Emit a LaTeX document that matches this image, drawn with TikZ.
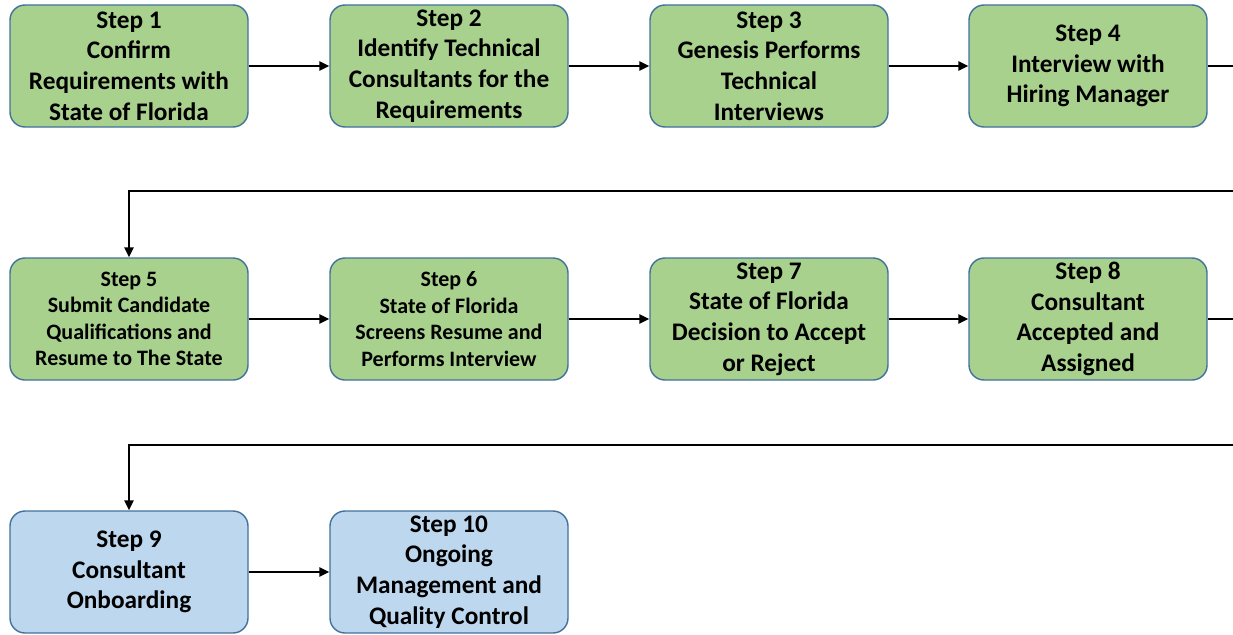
\documentclass[tikz,border=0pt]{standalone}
\usepackage{fontspec}
\setmainfont{Carlito}
\usetikzlibrary{arrows.meta}
\definecolor{boxgreen}{HTML}{A9D18E}
\definecolor{boxblue}{HTML}{BDD7EE}
\definecolor{boxedge}{HTML}{41719C}
\begin{document}
\begin{tikzpicture}[x=1pt,y=-1pt,
  stepbox/.style={draw=boxedge, line width=1.4pt, rounded corners=15pt,
    minimum width=238pt, minimum height=122pt, inner sep=0pt,
    align=center, font=\fontsize{25.3}{30.7}\selectfont\bfseries},
  greenbox/.style={stepbox, fill=boxgreen},
  bluebox/.style={stepbox, fill=boxblue},
  smalltext/.style={font=\fontsize{22}{26.5}\selectfont\bfseries},
  conn/.style={line width=2.7pt, draw=black},
  arr/.style={conn, -{Triangle[length=10pt,width=9pt]}}
]
\useasboundingbox (0,0) rectangle (1233,634);
% row 1
\node[greenbox] (s1) at (129,66) {Step 1\\Confirm\\Requirements with\\State of Florida};
\node[greenbox] (s2) at (449,66) {Step 2\\Identify Technical\\Consultants for the\\Requirements};
\node[greenbox] (s3) at (769,66) {Step 3\\Genesis Performs\\Technical\\Interviews};
\node[greenbox] (s4) at (1088,66) {Step 4\\Interview with\\Hiring Manager};
% row 2
\node[greenbox, smalltext] (s5) at (129,319) {Step 5\\Submit Candidate\\Qualifications and\\Resume to The State};
\node[greenbox, smalltext] (s6) at (449,319) {Step 6\\State of Florida\\Screens Resume and\\Performs Interview};
\node[greenbox] (s7) at (769,319) {Step 7\\State of Florida\\Decision to Accept\\or Reject};
\node[greenbox] (s8) at (1088,319) {Step 8\\Consultant\\Accepted and\\Assigned};
% row 3
\node[bluebox] (s9) at (129,572) {Step 9\\Consultant\\Onboarding};
\node[bluebox] (s10) at (449,572) {Step 10\\Ongoing\\Management and\\Quality Control};
% edge coordinates
\coordinate (e1) at (1234,66);
\coordinate (e2) at (1234,191);
\coordinate (e3) at (1234,319);
\coordinate (e4) at (1234,445);
% connectors
\draw[arr] (s1) -- (s2);
\draw[arr] (s2) -- (s3);
\draw[arr] (s3) -- (s4);
\draw[conn] (s4.east) -- (e1);
\draw[arr] (e2) -- (s5.north |- e2) -- (s5.north);
\draw[arr] (s5) -- (s6);
\draw[arr] (s6) -- (s7);
\draw[arr] (s7) -- (s8);
\draw[conn] (s8.east) -- (e3);
\draw[arr] (e4) -- (s9.north |- e4) -- (s9.north);
\draw[arr] (s9) -- (s10);
\end{tikzpicture}
\end{document}
